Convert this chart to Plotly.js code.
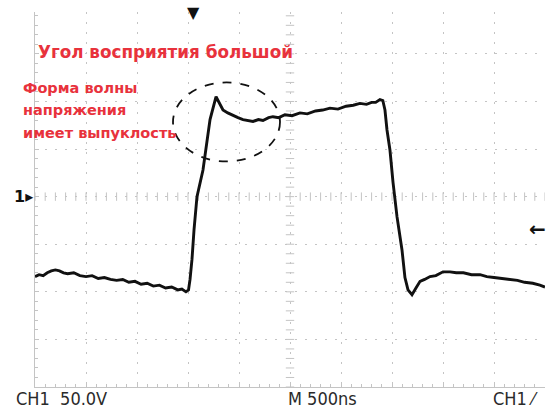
<!DOCTYPE html>
<html>
<head>
<meta charset="utf-8">
<script src="https://cdn.plot.ly/plotly-3.0.1.min.js"></script>
<style>html,body{margin:0;padding:0;background:#fff;}#chart{width:550px;height:410px;}</style>
</head>
<body>
<div id="chart"></div>
<script>
// Time (ns from left edge of screen, 500 ns/div) and voltage (V, 50 V/div)
const timeNs = [0, 40, 80, 120, 160, 200, 240, 280, 320, 380, 440, 500, 560, 620, 680, 740, 800, 860,
  920, 980, 1040, 1100, 1160, 1220, 1280, 1340, 1400, 1440, 1480, 1505,
  1520, 1539, 1559, 1588, 1647, 1716, 1775, 1810, 1843, 1890, 1941, 1990, 2039, 2090, 2137, 2190, 2235,
  2290, 2333, 2390, 2450, 2520, 2598, 2670, 2750, 2820, 2892, 2970, 3050, 3120, 3186, 3250, 3300, 3340,
  3382, 3410, 3431, 3451, 3480, 3510, 3549, 3598, 3627, 3657, 3696, 3735, 3775, 3820, 3873, 3930, 4000,
  4069, 4130, 4200, 4280, 4363, 4430, 4500, 4580, 4657, 4730, 4800, 4880, 4950, 5000];
const voltage = [-84, -82, -83, -80, -78, -77, -78, -80, -81, -80, -83, -84, -83, -86, -85, -87, -88, -87,
  -90, -89, -92, -91, -94, -93, -96, -95, -98, -97, -100, -98,
  -87, -66, -35, 0, 28, 81, 105, 97, 91, 88, 85, 83, 81, 80, 79, 81, 80,
  83, 84, 83, 86, 85, 88, 87, 90, 91, 93, 92, 95, 96, 98, 97, 99, 99,
  102, 101, 91, 70, 49, 15, -21, -56, -85, -98, -103, -96, -89, -87, -84, -83, -79,
  -79, -80, -80, -82, -82, -84, -85, -86, -87, -88, -90, -91, -93, -95];

const annotationTitle = "Угол восприятия большой";
const annotationNote = ["Форма волны", "напряжения", "имеет выпуклость"];
const chLabel = "CH1 \u00a050.0V";
const timeLabel = "M 500ns";
const trigLabel = "CH1 ⁄";

const gridCol = '#c4c4c4';

// decorative center-cross minor ticks (1/5 division)
const cx = [];
for (let t = 0; t <= 5000; t += 100) { cx.push(t); }
const vy = [];
for (let v = -200; v <= 190; v += 10) { vy.push(v); }

const traces = [
  {x: cx, y: cx.map(() => 0), mode: 'markers', hoverinfo: 'skip',
   marker: {symbol: 'line-ns', size: 6, line: {color: gridCol, width: 1}}},
  {x: vy.map(() => 2500), y: vy, mode: 'markers', hoverinfo: 'skip',
   marker: {symbol: 'line-ew', size: 6, line: {color: gridCol, width: 1}}},
  {x: timeNs, y: voltage, mode: 'lines', line: {color: '#111', width: 2.9}}
];

const axisCommon = {
  showgrid: true, gridcolor: gridCol, gridwidth: 1, griddash: '2px,8px',
  zeroline: false, showticklabels: false, ticks: 'inside', ticklen: 4, tickcolor: gridCol,
  showline: true, linecolor: gridCol, linewidth: 1, fixedrange: true
};

const redFont = {family: 'DejaVu Sans', color: '#e8323c', weight: 'bold'};
const grayFont = {family: 'DejaVu Sans Condensed, DejaVu Sans', size: 18, color: '#2a2a2a'};

const noteY = [114, 91, 67]; // voltage-level positions of the three note lines
const noteAnns = annotationNote.map((line, i) => ({
  x: -0.027, y: noteY[i], xref: 'paper', yref: 'y', xanchor: 'left', yanchor: 'middle', showarrow: false,
  text: line, font: Object.assign({size: 14.5}, redFont)
}));

const layout = {
  width: 550, height: 410,
  margin: {l: 35, r: 5, t: 12, b: 23},
  paper_bgcolor: '#fff', plot_bgcolor: '#fff',
  showlegend: false,
  xaxis: Object.assign({}, axisCommon, {range: [0, 5000], dtick: 500,
    minor: {dtick: 100, ticks: 'inside', ticklen: 3, tickcolor: gridCol, showgrid: false}}),
  yaxis: Object.assign({}, axisCommon, {range: [-200, 194], dtick: 50,
    minor: {dtick: 10, ticks: 'inside', ticklen: 3, tickcolor: gridCol, showgrid: false}}),
  shapes: [
    {type: 'circle', xref: 'x', yref: 'y', x0: 1353, x1: 2402, y0: 37, y1: 120,
     line: {color: '#111', width: 1.8, dash: 'dash'}}
  ],
  annotations: [
    {x: 5, y: 152, xref: 'x', yref: 'y', xanchor: 'left', yanchor: 'middle', showarrow: false,
     text: annotationTitle, font: Object.assign({size: 16.8}, redFont)},
    ...noteAnns,
    {x: 0.052, y: -0.03, xref: 'paper', yref: 'paper', xanchor: 'center', yanchor: 'middle', showarrow: false,
     text: chLabel, font: grayFont},
    {x: 0.564, y: -0.03, xref: 'paper', yref: 'paper', xanchor: 'center', yanchor: 'middle', showarrow: false,
     text: timeLabel, font: grayFont},
    {x: 0.99, y: -0.03, xref: 'paper', yref: 'paper', xanchor: 'right', yanchor: 'middle', showarrow: false,
     text: trigLabel, font: grayFont},
    {x: 0.0, y: 0, xref: 'paper', yref: 'y', xanchor: 'right', yanchor: 'middle', showarrow: false,
     text: '<b>1▸</b>', font: {family: 'DejaVu Sans', size: 16, color: '#111'}},
    {x: 1.006, y: -34, xref: 'paper', yref: 'y', xanchor: 'right', yanchor: 'middle', showarrow: false,
     text: '<b>←</b>', font: {family: 'DejaVu Sans', size: 20, color: '#111'}},
    {x: 1550, y: 1.0, xref: 'x', yref: 'paper', xanchor: 'center', yanchor: 'middle', showarrow: false,
     text: '▼', font: {family: 'DejaVu Sans', size: 16, color: '#111'}}
  ]
};

Plotly.newPlot('chart', traces, layout, {displayModeBar: false, staticPlot: true});
</script>
</body>
</html>
